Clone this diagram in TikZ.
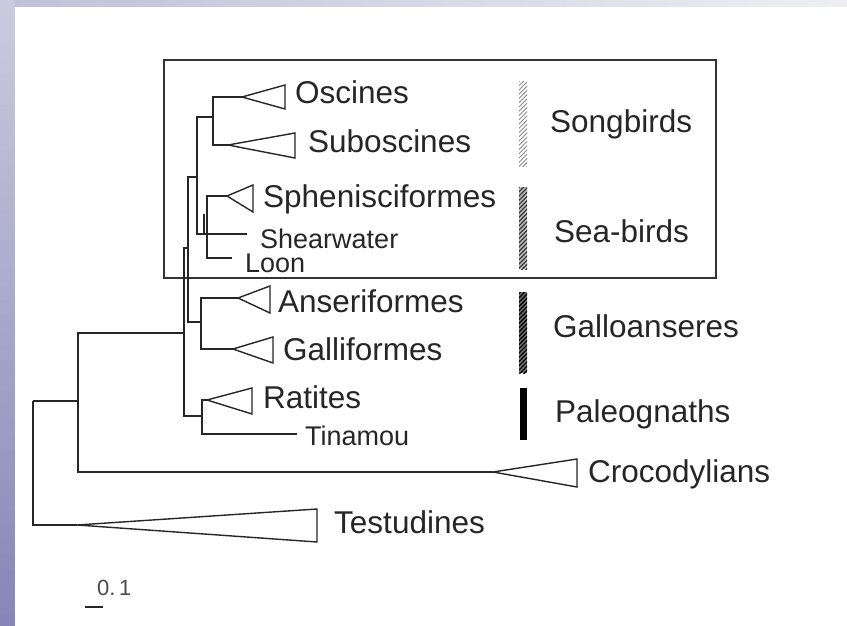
\documentclass[tikz,border=0pt]{standalone}
\usepackage{fontspec}
\setmainfont{Liberation Sans}
\usetikzlibrary{patterns.meta}

\definecolor{lavtop}{RGB}{202,202,222}
\definecolor{lavbot}{RGB}{134,134,184}
\definecolor{lavleft}{RGB}{192,192,216}
\definecolor{lavright}{RGB}{238,238,244}

\tikzset{
    branch/.style={line width=1.5pt, draw=black!85},
    cladetri/.style={line width=1.4pt, draw=black!85, fill=white, line join=miter},
    taxon/.style={anchor=base west, inner sep=0pt, text=black!85, font=\fontsize{31.5}{36}\selectfont},
    small taxon/.style={taxon, font=\fontsize{27}{31}\selectfont}
}
% collapsed clade: tip, base x, base top y, base bottom y
\newcommand{\clade}[4]{\draw[cladetri] (#1) -- (#2,#3) -- (#2,#4) -- cycle;}

\begin{document}
\begin{tikzpicture}[x=1pt, y=-1pt]
            \useasboundingbox (0,0) rectangle (847,626);
            % slide frame
            \fill[white] (0,0) rectangle (847,626);
            \foreach \i in {0,...,41} {
                \pgfmathtruncatemacro{\p}{100-\i*100/41}
                \fill[lavleft!\p!lavright] (\i*20.2,0) rectangle (\i*20.2+20.4,7);
            }
            \foreach \i in {0,...,41} {
                \pgfmathtruncatemacro{\p}{\i*100/41}
                \fill[lavbot!\p!lavtop] (0,\i*15) rectangle (15,\i*15+15.3);
            }

            % box round the neoaves
            \draw[line width=1.8pt, black!80] (164,60) rectangle (716,278);

            % inner nodes of the tree
            \coordinate (root) at (33,401);
            \coordinate (archo) at (78,401);
            \coordinate (aves) at (184,333);
            \coordinate (neog) at (188,248);
            \coordinate (neoav) at (197,177);
            \coordinate (songb) at (213,117);
            \coordinate (seab) at (207,234);
            \coordinate (gallo) at (201,322);
            \coordinate (paleo) at (202,416);

            % tips and leaf ends
            \coordinate (testip) at (77,525);
            \coordinate (crotip) at (493,472);
            \coordinate (osctip) at (242,97);
            \coordinate (subtip) at (228,145);
            \coordinate (sphtip) at (227,196);
            \coordinate (shear) at (247,234);
            \coordinate (loon) at (232,258);
            \coordinate (anstip) at (238,298);
            \coordinate (galtip) at (233,349);
            \coordinate (ratip) at (207,400);
            \coordinate (tinam) at (297,434);

            % Branches
            \draw[branch] (root) |- (testip);
            \draw[branch] (root) -- (archo);
            \draw[branch] (archo) |- (aves);
            \draw[branch] (archo) |- (crotip);
            \draw[branch] (aves) |- (neog);
            \draw[branch] (aves) |- (paleo);
            \draw[branch] (neog) |- (neoav);
            \draw[branch] (neog) |- (gallo);
            \draw[branch] (neoav) |- (songb);
            \draw[branch] (neoav) |- (shear);
            \draw[branch] (songb) |- (osctip);
            \draw[branch] (songb) |- (subtip);
            \draw[branch] (seab) |- (sphtip);
            \draw[branch] (seab) |- (loon);
            \draw[branch] (204,214) -- (204,234);
            \draw[branch] (gallo) |- (anstip);
            \draw[branch] (gallo) |- (galtip);
            \draw[branch] (paleo) |- (ratip);
            \draw[branch] (paleo) |- (tinam);

            % Collapsed clades
            \clade{testip}{317}{509}{542}
            \clade{crotip}{577}{459}{487}
            \clade{osctip}{285}{85}{109}
            \clade{subtip}{295}{133}{158}
            \clade{sphtip}{253}{185}{212}
            \clade{anstip}{270}{286}{313}
            \clade{galtip}{273}{337}{363}
            \clade{ratip}{252}{388}{414}

            % Taxon labels
            \node[taxon] at (295,103) (oscines) {Oscines};
            \node[taxon] at (308,152) (suboscines) {Suboscines};
            \node[taxon] at (263,207) (sphenisc) {Sphenisciformes};
            \node[small taxon] at (260,248) (shearwater) {Shearwater};
            \node[small taxon] at (245,272) (loonlbl) {Loon};
            \node[taxon] at (278,312) (anserif) {Anseriformes};
            \node[taxon] at (283,360) (gallif) {Galliformes};
            \node[taxon] at (263,408) (ratites) {Ratites};
            \node[small taxon] at (305,445) (tinamou) {Tinamou};
            \node[taxon] at (588,482) (crocs) {Crocodylians};
            \node[taxon] at (334,533) (testud) {Testudines};

            % Group bars
            \fill[pattern={Lines[angle=45, distance=3pt, line width=0.9pt]}, pattern color=black!45] (519,82) rectangle (527,166);
            \fill[black!25] (519,187) rectangle (527,269);
            \fill[pattern={Lines[angle=45, distance=3pt, line width=1.2pt]}, pattern color=black!80] (519,187) rectangle (527,269);
            \fill[black!55] (519,292) rectangle (527,373);
            \fill[pattern={Lines[angle=45, distance=3pt, line width=1.3pt]}, pattern color=black] (519,292) rectangle (527,373);
            \fill[black] (520,388) rectangle (527,440);

            % Group labels
            \node[taxon] at (550,132) (songbirds) {Songbirds};
            \node[taxon] at (554,242) (seabirds) {Sea-birds};
            \node[taxon] at (553,337) (galloans) {Galloanseres};
            \node[taxon] at (555,422) (paleogn) {Paleognaths};

            % Scale
            \draw[line width=2.5pt, black!85] (85,607) -- (103,607);
            \node[taxon, text=black!70, font=\fontsize{22}{26}\selectfont] at (97,595) (scale) {0.\,1};
        \end{tikzpicture}
\end{document}
